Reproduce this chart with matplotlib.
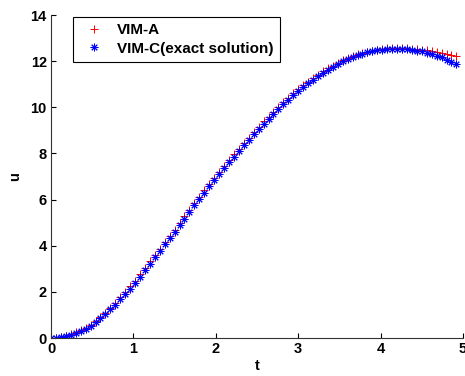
import matplotlib
matplotlib.use('Agg')
import matplotlib.pyplot as plt
import numpy as np

plt.rcParams['font.family'] = ['Liberation Sans', 'DejaVu Sans']

# time grid (step 0.06, 0 .. 4.92)
t = np.round(np.arange(0, 4.93, 0.06), 2)

# VIM-C (exact solution)
u_exact = [0.00, 0.01, 0.03, 0.08, 0.14, 0.21, 0.30, 0.41, 0.54, 0.69,
           0.85, 1.03, 1.24, 1.45, 1.68, 1.92, 2.14, 2.39, 2.66, 2.94,
           3.22, 3.50, 3.78, 4.06, 4.33, 4.60, 4.89, 5.17, 5.46, 5.75,
           6.03, 6.30, 6.57, 6.84, 7.10, 7.36, 7.61, 7.86, 8.10, 8.35,
           8.59, 8.83, 9.06, 9.29, 9.51, 9.72, 9.93, 10.13, 10.33, 10.52,
           10.70, 10.87, 11.04, 11.20, 11.35, 11.50, 11.63, 11.76, 11.88, 11.99,
           12.08, 12.17, 12.25, 12.32, 12.38, 12.43, 12.47, 12.50, 12.52, 12.53,
           12.54, 12.54, 12.52, 12.49, 12.46, 12.42, 12.37, 12.31, 12.24, 12.16,
           12.07, 11.97, 11.87]

# VIM-A, a touch above the exact curve, clearly higher after t=4.3
u_vima = [0.00, 0.01, 0.04, 0.09, 0.16, 0.24, 0.33, 0.45, 0.58, 0.74,
          0.91, 1.10, 1.31, 1.53, 1.77, 2.01, 2.24, 2.49, 2.76, 3.04,
          3.32, 3.60, 3.88, 4.16, 4.43, 4.70, 4.99, 5.27, 5.56, 5.85,
          6.13, 6.40, 6.67, 6.94, 7.20, 7.46, 7.71, 7.96, 8.20, 8.45,
          8.69, 8.93, 9.16, 9.39, 9.60, 9.81, 10.02, 10.22, 10.41, 10.60,
          10.78, 10.95, 11.11, 11.27, 11.42, 11.56, 11.69, 11.81, 11.93, 12.03,
          12.12, 12.21, 12.29, 12.36, 12.41, 12.46, 12.50, 12.53, 12.55, 12.56,
          12.56, 12.56, 12.55, 12.54, 12.52, 12.50, 12.47, 12.44, 12.40, 12.36,
          12.32, 12.28, 12.24]

fig = plt.figure(figsize=(4.65, 3.76), dpi=100)
ax = fig.add_axes([0.1097, 0.101, 0.886, 0.859])

ax.plot(t, u_vima, linestyle='none', marker='+', color='red',
        markersize=6, markeredgewidth=0.7, label='VIM-A')
ax.plot(t, u_exact, linestyle='none', marker=(8, 2, 0), color='blue',
        markersize=5.5, markeredgewidth=0.7, label='VIM-C(exact solution)')

ax.set_xlim(0, 5)
ax.set_ylim(0, 14)
ax.set_xticks([0, 1, 2, 3, 4, 5])
ax.set_yticks(np.arange(0, 15, 2))
ax.spines['top'].set_visible(False)
ax.spines['right'].set_visible(False)
ax.spines['left'].set_color('#333333')
ax.spines['bottom'].set_color('#333333')
ax.tick_params(direction='in', length=3.5, width=0.8, labelsize=10.5,
               pad=3, colors='black')
for lbl in ax.get_xticklabels() + ax.get_yticklabels():
    lbl.set_fontweight('bold')

ax.set_xlabel('t', fontsize=10.5, fontweight='bold', labelpad=2)
ax.set_ylabel('u', fontsize=10.5, fontweight='bold', labelpad=6)

leg = ax.legend(loc='upper left', bbox_to_anchor=(0.053, 0.994),
                fancybox=False, edgecolor='black', framealpha=1,
                prop={'size': 11, 'weight': 'bold'}, handletextpad=0.5,
                borderpad=0.4, labelspacing=0.3, handlelength=2.0,
                borderaxespad=0)
leg.get_frame().set_linewidth(0.8)

fig.savefig('out.png', dpi=100)
